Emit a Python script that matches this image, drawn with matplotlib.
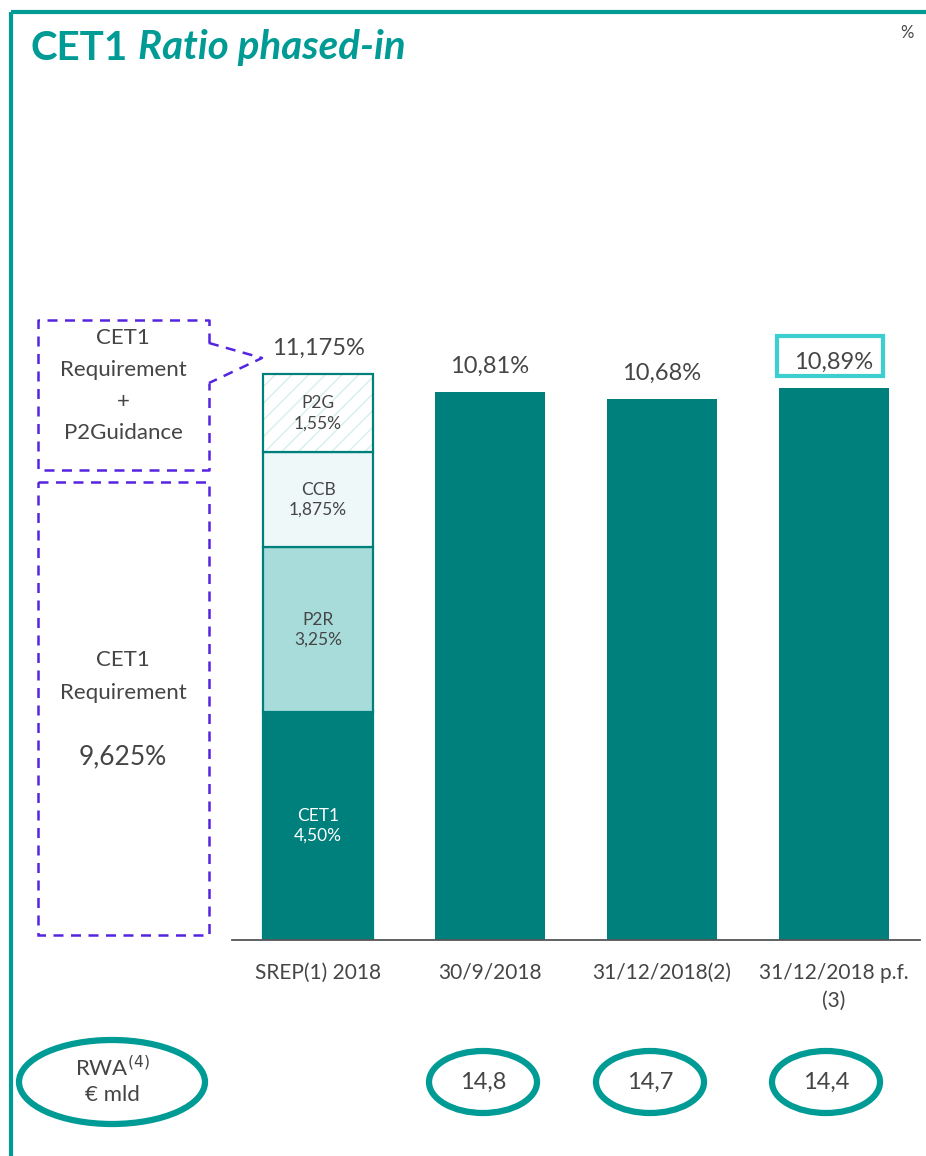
import matplotlib.pyplot as plt
from matplotlib.patches import Rectangle, Ellipse

plt.rcParams['font.family'] = ['Lato', 'DejaVu Sans']

# data
categories = ['SREP(1) 2018', '30/9/2018', '31/12/2018(2)', '31/12/2018 p.f.\n(3)']
srep_parts = ['CET1', 'P2R', 'CCB', 'P2G']
srep_values = [4.50, 3.25, 1.875, 1.55]
srep_labels = ['CET1\n4,50%', 'P2R\n3,25%', 'CCB\n1,875%', 'P2G\n1,55%']
ratios = [10.81, 10.68, 10.89]
total_labels = ['11,175%', '10,81%', '10,68%', '10,89%']
rwa = ['14,8', '14,7', '14,4']

teal = '#00807D'
frame = '#009B95'
grey = '#454545'
purple = '#5424E0'

W, H = 926, 1156
fig = plt.figure(figsize=(W / 100, H / 100), dpi=100)

# pixel overlay behind the chart
ov = fig.add_axes([0, 0, 1, 1])
ov.set_xlim(0, W)
ov.set_ylim(H, 0)
ov.axis('off')

# main axes: baseline at y=940 px, bars centred at 0..3
px_per_unit = 50.65
ax = fig.add_axes([232 / W, (H - 940) / H, 688 / W, 928 / H])
ax.patch.set_alpha(0)
ax.set_xlim(-0.5, 3.5)
ax.set_ylim(0, 928 / px_per_unit)
for s in ['top', 'right', 'left']:
    ax.spines[s].set_visible(False)
ax.spines['bottom'].set_color('#555555')
ax.spines['bottom'].set_linewidth(1.3)
ax.set_yticks([])
ax.set_xticks(range(4))
first_lines = [c.split('\n')[0] for c in categories]
ax.set_xticklabels(first_lines, fontsize=15, color=grey, va='baseline')
ax.tick_params(axis='x', length=0, pad=28)
trans = ax.get_xaxis_transform()
for i, c in enumerate(categories):
    for k, extra in enumerate(c.split('\n')[1:]):
        ax.text(i, -(39 + 28 * (k + 1)) / 928, extra, transform=trans, fontsize=15,
                color=grey, ha='center', va='baseline')

bw = 110 / 172
# stacked SREP bar
fills = [teal, '#A8DCDB', '#EEF8F8', 'white']
bottom = 0
for i, v in enumerate(srep_values):
    if srep_parts[i] == 'P2G':
        ax.bar(0, v, bw, bottom=bottom, color='white', edgecolor='#D6EEEE',
               hatch='//', linewidth=0)
        ax.bar(0, v, bw, bottom=bottom, fill=False, edgecolor=teal, linewidth=1.6)
    else:
        ax.bar(0, v, bw, bottom=bottom, color=fills[i], edgecolor=teal, linewidth=1.6)
    txtc = 'white' if i == 0 else grey
    ax.text(0, bottom + v / 2, srep_labels[i], ha='center', va='center',
            fontsize=12.5, color=txtc, linespacing=1.3)
    bottom += v
total_srep = bottom

ax.bar(range(1, 4), ratios, bw, color=teal, linewidth=0)

tops = [total_srep] + ratios
for i, t in enumerate(tops):
    ax.text(i, t + 0.3, total_labels[i], ha='center', va='bottom',
            fontsize=17, color=grey)

# top overlay
ov2 = fig.add_axes([0, 0, 1, 1])
ov2.set_xlim(0, W)
ov2.set_ylim(H, 0)
ov2.axis('off')

# frame
ov.plot([11, W], [12, 12], color=frame, lw=3, solid_capstyle='butt')
ov.plot([11, 11], [12, H], color=frame, lw=3, solid_capstyle='butt')

# title
ov.text(30, 48, 'CET1', fontsize=29, fontweight='bold', color=frame, va='center')
ov.text(138, 48, 'Ratio phased-in', fontsize=29, fontweight='bold', style='italic',
        color=frame, va='center')
ov.text(907, 33, '%', fontsize=12, color=grey, ha='center', va='center')

# box around the last value
ov2.add_patch(Rectangle((777, 336), 106, 40, fill=False, edgecolor='#3CCFCF', lw=3))

# dashed requirement boxes
dash = dict(color=purple, lw=1.8, ls=(0, (4, 3)))
ov.plot([209, 209, 38, 38, 209, 209], [343, 320, 320, 470, 470, 383], **dash)
ov.plot([209, 262, 209], [343, 358, 383], **dash)
ov.add_patch(Rectangle((38, 482), 171, 453, fill=False, edgecolor=purple, lw=1.8,
                       ls=(0, (4, 3))))
for y, s in [(338, 'CET1'), (370, 'Requirement'), (402, '+'), (433, 'P2Guidance')]:
    ov.text(123, y, s, fontsize=16, color=grey, ha='center', va='center')
for y, s in [(660, 'CET1'), (693, 'Requirement')]:
    ov.text(123, y, s, fontsize=16, color=grey, ha='center', va='center')
ov.text(123, 757, '9,625%', fontsize=19, color=grey, ha='center', va='center')

# RWA ellipses
ov.add_patch(Ellipse((112, 1082), 186, 84, fill=False, edgecolor=frame, lw=4.5))
ov.text(112, 1080, 'RWA$^{(4)}$\n€ mld', fontsize=16, color=grey, ha='center',
        va='center', linespacing=1.35)
for cx, val in zip([483, 650, 826], rwa):
    ov.add_patch(Ellipse((cx, 1082), 108, 62, fill=False, edgecolor=frame, lw=4.5))
    ov.text(cx, 1082, val, fontsize=17, color=grey, ha='center', va='center')

fig.savefig('out.png', dpi=100)
